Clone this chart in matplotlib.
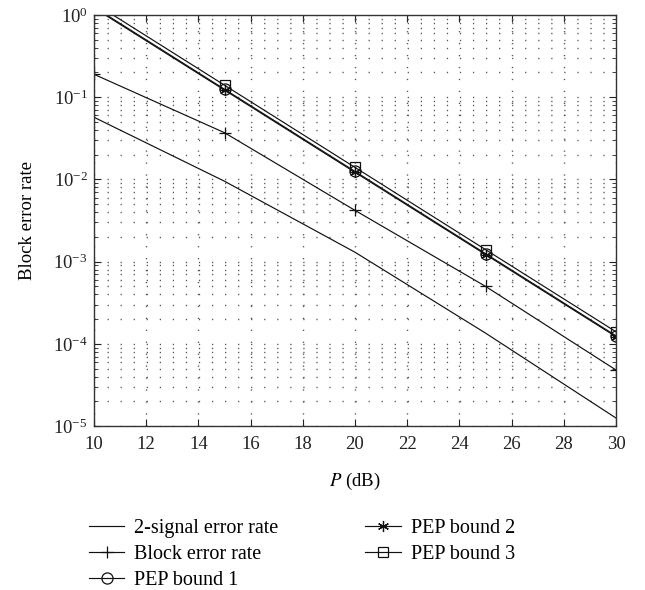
import matplotlib
matplotlib.use("Agg")
import matplotlib.pyplot as plt
from matplotlib.ticker import MultipleLocator, LogLocator, NullFormatter

plt.rcParams['font.family'] = ['Liberation Serif', 'DejaVu Serif']
plt.rcParams['mathtext.fontset'] = 'stix'
plt.rcParams['lines.scale_dashes'] = False

P_dB = [10, 15, 20, 25, 30]
two_signal = [0.057, 0.0095, 0.0013, 0.000135, 0.0000125]
block_err = [0.19, 0.037, 0.0042, 0.0005, 0.000048]
pep1 = [1.25, 0.125, 0.0125, 0.00125, 0.000125]
pep2 = [1.22, 0.122, 0.0122, 0.00122, 0.000122]
pep3 = [1.4, 0.14, 0.014, 0.0014, 0.00014]
labels = ["2-signal error rate", "Block error rate", "PEP bound 1", "PEP bound 2", "PEP bound 3"]

fig = plt.figure(figsize=(6.45, 5.9), dpi=100)
ax = fig.add_axes([94/645, 1-426/590, (616-94)/645, (426-15)/590])

lw = 0.85
ax.plot(P_dB, two_signal, '-', color='#111111', lw=lw, label=labels[0])
ax.plot(P_dB, block_err, '-', color='#111111', lw=lw, marker='+', ms=9, mew=0.9, label=labels[1])
ax.plot(P_dB, pep1, '-', color='#111111', lw=lw, marker='o', ms=8, mfc='none', mew=0.9, label=labels[2])
ax.plot(P_dB, pep2, '-', color='#111111', lw=lw, marker=(6, 2, 0), ms=8, mew=0.9, label=labels[3])
ax.plot(P_dB, pep3, '-', color='#111111', lw=lw, marker='s', ms=7, mfc='none', mew=0.9, label=labels[4])

ax.set_yscale('log')
ax.set_xlim(10, 30)
ax.set_ylim(1e-5, 1)
ax.xaxis.set_major_locator(MultipleLocator(2))
ax.xaxis.set_minor_locator(MultipleLocator(0.5))
ax.yaxis.set_major_locator(LogLocator(base=10, numticks=10))
ax.yaxis.set_minor_locator(LogLocator(base=10, subs=range(2, 10), numticks=20))
ax.yaxis.set_minor_formatter(NullFormatter())

period_pt = (616-94)/40 * 0.72
dot = (0, (0.9, period_pt - 0.9))
ax.grid(True, axis='y', which='both', ls=dot, lw=1.0, color='#555555')
ax.grid(True, axis='x', which='major', ls=(0, (0.9, 7.7)), lw=1.0, color='#555555')
ax.tick_params(which='both', direction='in', top=True, right=True, labelsize=13.5, colors='#222222')
ax.tick_params(which='major', length=5, width=0.8)
ax.tick_params(axis='x', which='major', pad=7)
ax.tick_params(axis='y', which='major', pad=4.5)
ax.tick_params(axis='y', which='minor', length=3, width=0.6)
ax.tick_params(axis='x', which='minor', length=0)
for s in ax.spines.values():
    s.set_linewidth(1.0)
    s.set_color('#333333')

ax.set_xlabel(r'$P$ (dB)', fontsize=13.5, labelpad=13)
ax.set_ylabel('Block error rate', fontsize=13.5, labelpad=12)

leg = fig.legend(loc='upper left', bbox_to_anchor=(71/645, 1-501/590), ncol=2, frameon=False,
                 fontsize=14.5, handlelength=1.75, columnspacing=4.3, labelspacing=0.33, handletextpad=0.5)

fig.savefig('out.png', dpi=100)
